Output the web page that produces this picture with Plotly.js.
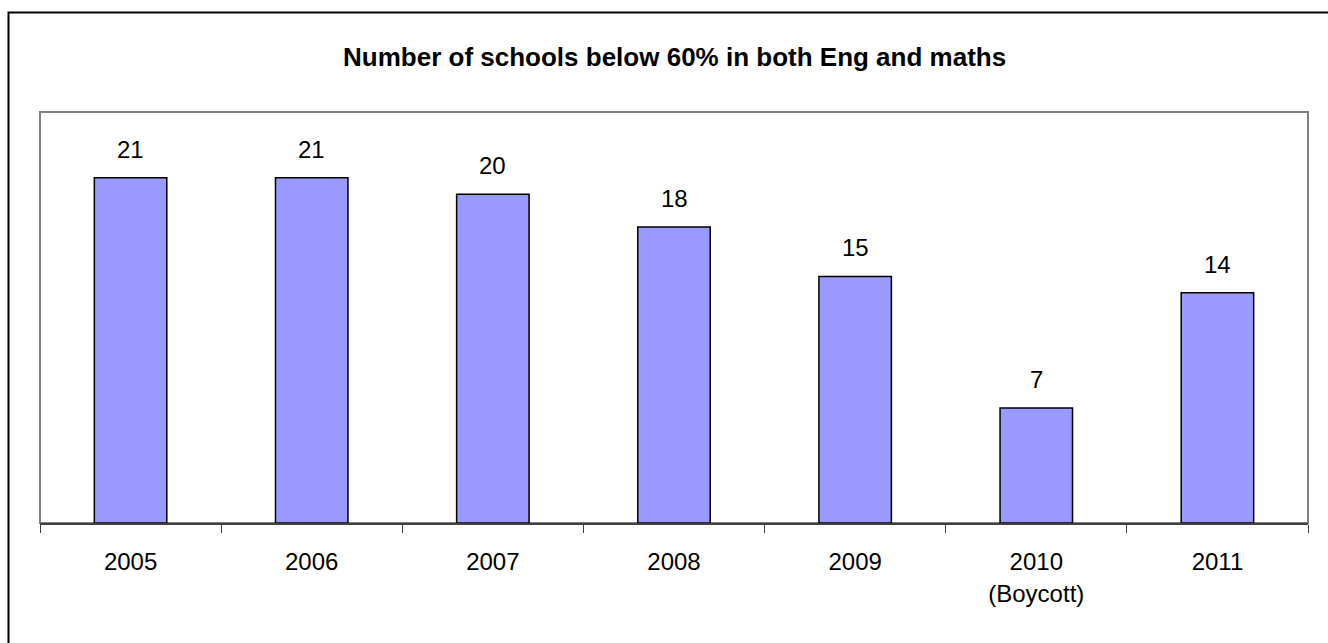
<!DOCTYPE html>
<html>
<head>
<meta charset="utf-8">
<script src="https://cdn.plot.ly/plotly-3.0.1.min.js"></script>
<style>
html,body{margin:0;padding:0;background:#fff;}
#chart{width:1328px;height:643px;}
</style>
</head>
<body>
<div id="chart"></div>
<script>
const categories = ["2005", "2006", "2007", "2008", "2009", "2010<br>(Boycott)", "2011"];
const values = [21, 21, 20, 18, 15, 7, 14];
const chartTitle = "Number of schools below 60% in both Eng and maths";

const font = "Liberation Sans, Arial, sans-serif";

const trace = {
  type: "bar",
  x: categories,
  y: values,
  width: 0.4,
  marker: {color: "#9999FF", line: {color: "#000000", width: 1.5}},
  hoverinfo: "none"
};

const labelAnnotations = values.map((v, i) => ({
  x: i, y: v, xref: "x", yref: "y",
  text: String(v),
  showarrow: false,
  yanchor: "bottom",
  yshift: 13,
  font: {family: font, size: 24, color: "#000"}
}));

const layout = {
  width: 1328,
  height: 643,
  margin: {l: 40, r: 20, t: 112, b: 120, pad: 0},
  paper_bgcolor: "#ffffff",
  plot_bgcolor: "#ffffff",
  showlegend: false,
  title: {
    text: "<b>" + chartTitle + "</b>",
    font: {family: font, size: 26, color: "#000"},
    x: 0.508, xanchor: "center",
    y: 1 - 57/643, yanchor: "middle"
  },
  xaxis: {
    type: "category",
    categoryarray: categories,
    categoryorder: "array",
    range: [-0.5, categories.length - 0.5],
    autorange: false,
    showgrid: false,
    zeroline: false,
    showline: true,
    linecolor: "#404040",
    linewidth: 1.5,
    mirror: false,
    ticks: "outside",
    tickson: "boundaries",
    ticklen: 8,
    tickcolor: "#404040",
    tickwidth: 1,
    tickangle: 0,
    tickfont: {family: font, size: 24, color: "#000"},
    ticklabelstandoff: 17
  },
  yaxis: {
    range: [0, 25],
    autorange: false,
    showgrid: false,
    zeroline: false,
    showticklabels: false,
    showline: false,
    ticks: ""
  },
  annotations: labelAnnotations,
  shapes: [
    {type: "rect", xref: "paper", yref: "paper", x0: 0, x1: 1, y0: 0, y1: 1,
     line: {color: "#808080", width: 2}, fillcolor: "rgba(0,0,0,0)", layer: "below"},
    {type: "rect", xref: "paper", yref: "paper",
     x0: (8.5 - 40) / 1268, x1: (1400 - 40) / 1268,
     y0: (523 - 700) / 411, y1: (523 - 12.5) / 411,
     line: {color: "#000000", width: 2}, fillcolor: "rgba(0,0,0,0)", layer: "below"}
  ]
};

Plotly.newPlot("chart", [trace], layout, {staticPlot: true, displayModeBar: false});
</script>
</body>
</html>
